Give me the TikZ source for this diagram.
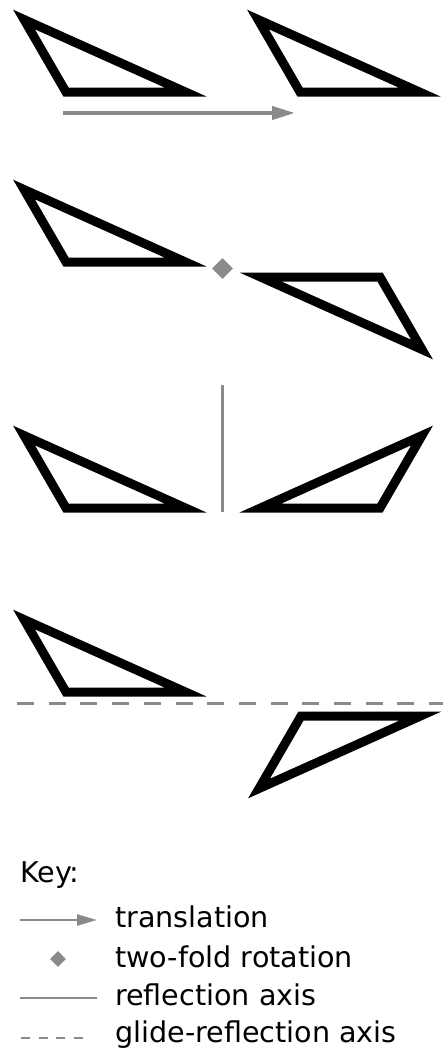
\documentclass[tikz,border=0pt]{standalone}
\usepackage{fontspec}
\setmainfont{DejaVu Sans}
\usetikzlibrary{arrows.meta,shapes.geometric,positioning}
\definecolor{symgray}{RGB}{138,138,138}

% the repeated motif, in local pixel units
\newcommand{\motif}{\draw[tri] (24,19.5) -- (66,92) -- (185.5,92) -- cycle;}

\begin{document}
\begin{tikzpicture}[x=1pt, y=-1pt,
  tri/.style={draw=black, line width=9pt, line join=miter},
  transl/.style={-{Triangle[length=23pt,width=13pt]}, symgray, line width=4pt},
  rotpt/.style={diamond, fill=symgray, inner sep=0pt, minimum width=21pt, minimum height=21pt},
  mirror/.style={symgray, line width=3pt},
  glide/.style={symgray, line width=3pt, dash pattern=on 17pt off 14.7pt},
  keyarr/.style={symgray, line width=2.5pt, -{Triangle[length=20pt,width=11pt]}},
  keyline/.style={symgray, line width=2.5pt},
  keytxt/.style={anchor=base west, inner sep=0pt, font=\fontsize{28.6}{32}\selectfont}]
\useasboundingbox (0,0) rectangle (443,1053);

% translation
\motif
\begin{scope}[shift={(234,0)}]
  \motif
\end{scope}
\coordinate (t0) at (63,113);
\coordinate (t1) at (295,113);
\draw[transl] (t0) -- (t1);

% two-fold rotation
\begin{scope}[shift={(0,170)}]
  \motif
\end{scope}
\begin{scope}[shift={(446,369)}, scale=-1]
  \motif
\end{scope}
\node[rotpt] (rc) at (222.5,268.5) {};

% reflection
\begin{scope}[shift={(0,416)}]
  \motif
\end{scope}
\begin{scope}[shift={(446,416)}, xscale=-1]
  \motif
\end{scope}
\coordinate (m0) at (222.7,385);
\coordinate (m1) at (222.7,512);
\draw[mirror] (m0) -- (m1);

% glide reflection
\begin{scope}[shift={(0,600)}]
  \motif
\end{scope}
\begin{scope}[shift={(235,808)}, yscale=-1]
  \motif
\end{scope}
\coordinate (g0) at (17,703);
\coordinate (g1) at (443,703);
\draw[glide] (g0) -- (g1);

% key
\node[keytxt] (keyhead) at (20,882) {Key:};
\node[keytxt] (ktrans) at (115,927) {translation};
\node[keytxt] (krot) at (115,967) {two-fold rotation};
\node[keytxt] (krefl) at (115,1005) {reflection axis};
\node[keytxt] (kglide) at (115,1042) {glide-reflection axis};
\coordinate (ka0) at (20,920);
\coordinate (ka1) at (97,920);
\draw[keyarr] (ka0) -- (ka1);
\node[rotpt, minimum width=16pt, minimum height=16pt] (krsym) at (58,959) {};
\coordinate (kl0) at (20,998);
\coordinate (kl1) at (97,998);
\draw[keyline] (kl0) -- (kl1);
\coordinate (kg0) at (21,1038);
\coordinate (kg1) at (82.5,1038);
\draw[keyline, dash pattern=on 9pt off 8.5pt] (kg0) -- (kg1);
\end{tikzpicture}
\end{document}
